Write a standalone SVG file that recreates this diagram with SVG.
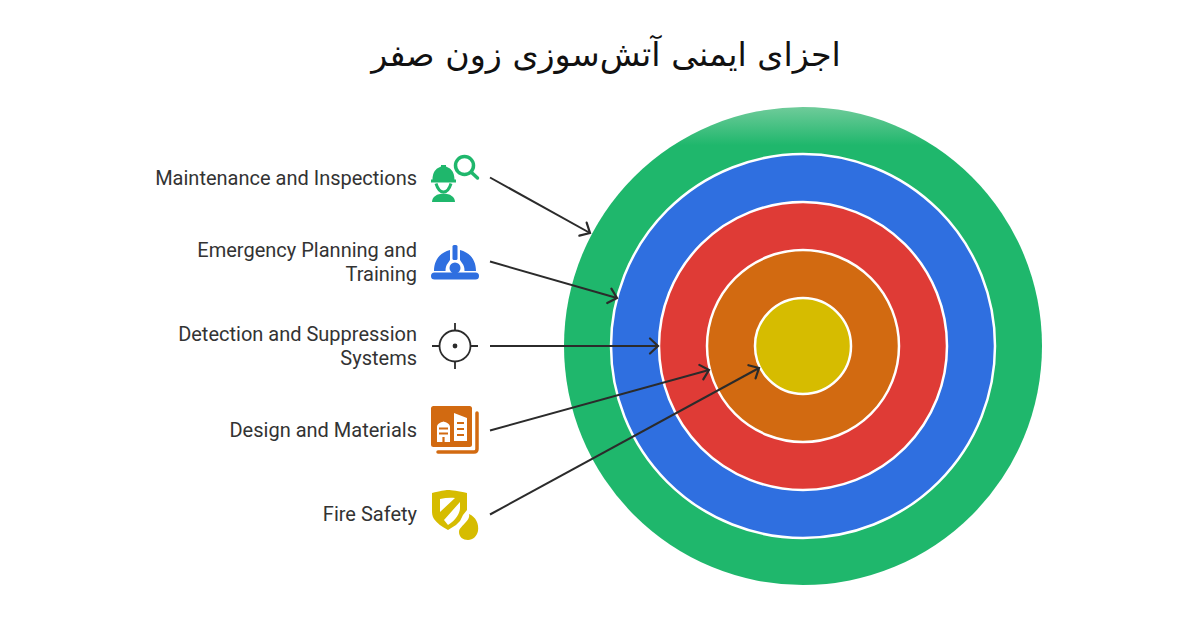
<svg xmlns="http://www.w3.org/2000/svg" width="1200" height="630" viewBox="0 0 1200 630">
<style>
.t{font-family:"Roboto","Liberation Sans",sans-serif;font-size:20px;fill:#333;text-anchor:end}
.title{font-family:"DejaVu Sans",sans-serif;font-size:33.300px;fill:#111;text-anchor:middle}
.ring{stroke:#fff;stroke-width:2.500}
.c{fill:none;stroke:#2b2b2b;stroke-width:2;marker-end:url(#a)}
</style>
<defs>
<marker id="a" markerUnits="userSpaceOnUse" markerWidth="16" markerHeight="18" refX="13" refY="9" orient="auto" viewBox="0 0 16 18"><path d="M5 1.500L13 9L5 16.500" fill="none" stroke="#2b2b2b" stroke-width="2.200" stroke-linecap="round"/></marker>
<linearGradient id="g" x1="0" y1="0" x2="0" y2="1"><stop offset="0" stop-color="#6fcb9a"/><stop offset="0.08" stop-color="#1fb76c"/><stop offset="1" stop-color="#1fb76c"/></linearGradient>
</defs>
<rect width="1200" height="630" fill="#fff"/>
<text class="title" x="606" y="66" direction="rtl" xml:lang="fa">اجزای ایمنی آتش‌سوزی زون صفر</text>
<g id="rings">
<circle cx="803" cy="346" r="239" fill="url(#g)"/>
<circle class="ring" cx="803" cy="346" r="192" fill="#2f6fe0"/>
<circle class="ring" cx="803" cy="346" r="144" fill="#df3b36"/>
<circle class="ring" cx="803" cy="346" r="96" fill="#d26a11"/>
<circle class="ring" cx="803" cy="346" r="48" fill="#d6bc00"/>
</g>
<g id="connectors">
<path class="c" d="M490 177.500L590 233"/>
<path class="c" d="M490 261.500L617 298"/>
<path class="c" d="M490 346L658 346"/>
<path class="c" d="M490 430.500L709 370"/>
<path class="c" d="M490 514.500L759 368"/>
</g>
<g id="node-maintenance">
<text class="t" x="417" y="184.500">Maintenance and Inspections</text>
<g fill="#1fb76c">
<path d="M431 179.500h25v3h-25z"/>
<path d="M432.500 180c0-6 2-10 5.500-12l3-1.500v-1.500h5v1.500l3 1.500c3.500 2 5.500 6 5.500 12z"/>
<path d="M436 183.500c1.500 5 4 8.500 7.500 8.500s6-3.500 7.500-8.500" fill="none" stroke="#1fb76c" stroke-width="3"/>
<path d="M432 202c0-5 5-8.500 11.500-8.500s11.500 3.500 11.500 8.500z"/>
</g>
<circle cx="464.500" cy="165.500" r="9" fill="none" stroke="#1fb76c" stroke-width="3.500"/>
<path d="M471 172l6.500 6" stroke="#1fb76c" stroke-width="3.500" stroke-linecap="round"/>
</g>
<g id="node-emergency">
<text class="t" x="417" y="256.500">Emergency Planning and</text>
<text class="t" x="417" y="280.500">Training</text>
<path d="M434 271c0-10 5-18 16-21v10l-2 3c-2 2-2.500 5-2.500 8zM476 271c0-10-5-18-16-21v10l2 3c2 2 2.500 5 2.500 8z" fill="#2f6fe0"/>
<rect x="452.500" y="245" width="5" height="15" rx="1.500" fill="#2f6fe0"/>
<circle cx="455" cy="268" r="5.500" fill="#2f6fe0"/>
<rect x="431" y="272.500" width="48" height="7" rx="3.500" fill="#2f6fe0"/>
</g>
<g id="node-detection">
<text class="t" x="417" y="340.500">Detection and Suppression</text>
<text class="t" x="417" y="364.500">Systems</text>
<circle cx="455" cy="346" r="15.500" fill="none" stroke="#2b2b2b" stroke-width="1.800"/>
<circle cx="455" cy="346" r="2.400" fill="#2b2b2b"/>
<path d="M455 323v8M455 361v8M432 346h8M470 346h8" stroke="#2b2b2b" stroke-width="1.800"/>
</g>
<g id="node-design">
<text class="t" x="417" y="436.500">Design and Materials</text>
<rect x="431" y="406" width="41" height="41" rx="2.500" fill="#d26a11"/>
<path d="M437 442v-15c0-3 3-4.500 6.500-5.500 3.500 1 6.500 2.500 6.500 5.500v15zM454 441v-28l13 5v23z" fill="#fff"/>
<path d="M439 428.500h9M439 433.500h9M443.500 437v5M457 423h7M457 429h7M457 435h7" stroke="#d26a11" stroke-width="2.200"/>
<path d="M477 413v36c0 2-1 3-3 3h-36" fill="none" stroke="#d26a11" stroke-width="3.500" stroke-linecap="round"/>
</g>
<g id="node-fire">
<text class="t" x="417" y="520.500">Fire Safety</text>
<path d="M432 493c8-2 13-3 16-3s11 1 19 3v17l-4 5-3 6-4 4-8 5c-6-3-11-7-14-11-2-3-2-6-2-9z" fill="#d6bc00"/>
<path d="M440 499c5-1 10-1.500 15-1l-15 14zM460 502v6c0 5-4 12-12 17l-4-5z" fill="#fff"/>
<path d="M469 514c7 3 10 10 9 17-1 5-5 9-10 9s-9-3-9-8c0-4 4-6 6-9 2-2 5-5 4-9z" fill="#d6bc00"/>
</g>
</svg>
